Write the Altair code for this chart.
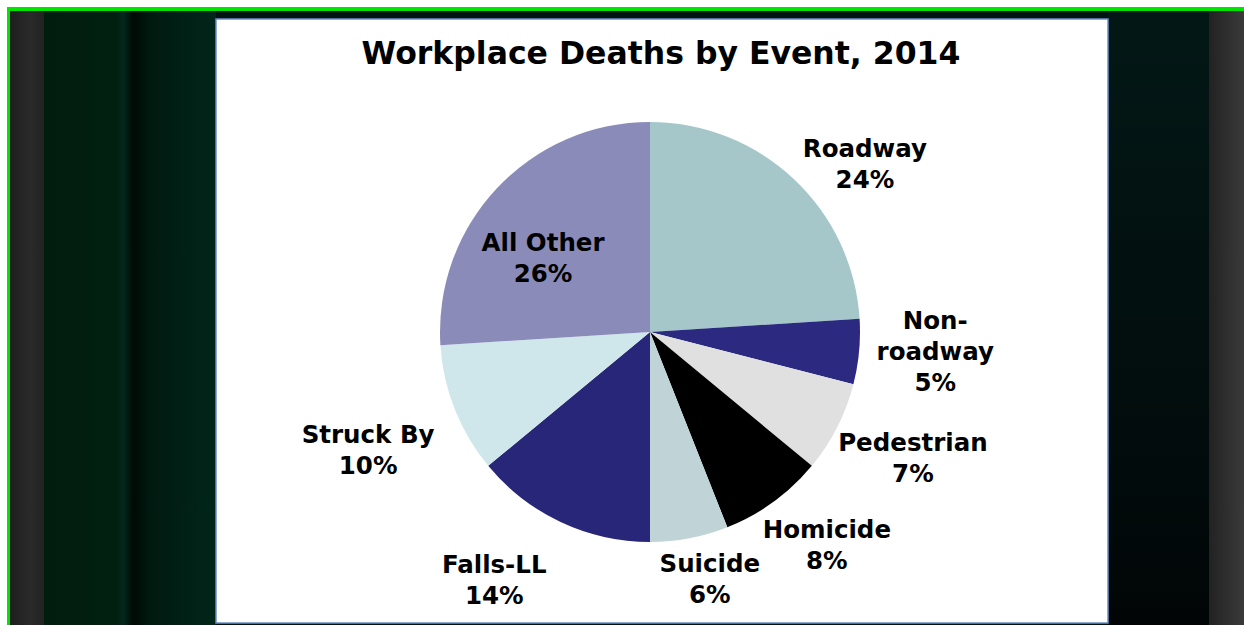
import math
import altair as alt
import pandas as pd

# ---- data ----
title_text = "Workplace Deaths by Event, 2014"
events = ["Roadway", "Non-roadway", "Pedestrian", "Homicide", "Suicide", "Falls-LL", "Struck By", "All Other"]
label_names = ["Roadway", "Non-\nroadway", "Pedestrian", "Homicide", "Suicide", "Falls-LL", "Struck By", "All Other"]
shares = [24, 5, 7, 8, 6, 14, 10, 26]
colors = ["#a5c7c9", "#2b2a80", "#e0e0e0", "#000000", "#c0d4d7", "#272678", "#cfe7eb", "#8b8bba"]

# ---- layout / style ----
W, H = 1244, 625
CX, CY, R = 650, 332, 210
FONT = "DejaVu Sans"
LH = 31
# label placement: (distance from centre, angular nudge in degrees)
label_place = {
    "Roadway": (272, 9.0),
    "Non-roadway": (286, -1.2),
    "Pedestrian": (292, -1.2),
    "Homicide": (278, -3.5),
    "Suicide": (256, -2.7),
    "Falls-LL": (294, 6.8),
    "Struck By": (306, -1.3),
    "All Other": (129, -9.2),
}

pie_df = pd.DataFrame({"event": events, "share": shares, "idx": list(range(len(events)))})

total = sum(shares)
rows = []
cum = 0
for ev, nm, s in zip(events, label_names, shares):
    mid = (cum + s / 2) / total * 360
    cum += s
    r, nudge = label_place[ev]
    a = math.radians(mid + nudge)
    txt = f"{nm}\n{s}%"
    n_lines = txt.count("\n") + 1
    rows.append({
        "event": ev, "text": txt,
        "lx": CX + r * math.sin(a),
        "ly": CY - r * math.cos(a) - (n_lines - 1) * LH / 2,
    })
lab_df = pd.DataFrame(rows)

one = pd.DataFrame({"k": [0]})


def box(x1, x2, y1, y2, color, **kw):
    return alt.Chart(one).mark_rect(color=color, **kw).encode(
        x=alt.value(x1), x2=alt.value(x2), y=alt.value(y1), y2=alt.value(y2)
    )


green = box(7, W, 7, H, "#00e400")
dark = box(10, W, 11, H, "#01130e")
gray_left = box(10, 44, 11, H, alt.LinearGradient(
    gradient="linear", x1=0, x2=1, y1=0, y2=0,
    stops=[alt.GradientStop(color="#1e1e1e", offset=0), alt.GradientStop(color="#2a2a2a", offset=0.6),
           alt.GradientStop(color="#222222", offset=1)]))
green_left = box(44, 216, 11, H, alt.LinearGradient(
    gradient="linear", x1=0, x2=1, y1=0, y2=0,
    stops=[alt.GradientStop(color="#011d0e", offset=0), alt.GradientStop(color="#01200f", offset=0.42),
           alt.GradientStop(color="#03291d", offset=0.46), alt.GradientStop(color="#000a04", offset=0.52),
           alt.GradientStop(color="#011a11", offset=0.62), alt.GradientStop(color="#01261a", offset=1)]))
right_dark = box(1108, 1209, 11, H, alt.LinearGradient(
    gradient="linear", x1=0, x2=0, y1=0, y2=1,
    stops=[alt.GradientStop(color="#031816", offset=0), alt.GradientStop(color="#020c0c", offset=0.7),
           alt.GradientStop(color="#010506", offset=1)]))
gray_right = box(1209, W, 11, H, alt.LinearGradient(
    gradient="linear", x1=0, x2=1, y1=0, y2=0,
    stops=[alt.GradientStop(color="#222222", offset=0), alt.GradientStop(color="#3a3a3a", offset=1)]))
panel = box(216, 1108, 19, 623, "white", stroke="#6a8ec8", strokeWidth=1.5)

pie = alt.Chart(pie_df).mark_arc(radius=R).encode(
    theta=alt.Theta("share:Q", stack=True),
    color=alt.Color("event:N", scale=alt.Scale(domain=events, range=colors), legend=None),
    order=alt.Order("idx:Q"),
    x=alt.value(CX),
    y=alt.value(CY),
)

labels = alt.Chart(lab_df).mark_text(
    font=FONT, fontSize=24.5, fontWeight="bold", color="black",
    align="center", baseline="middle", lineBreak="\n", lineHeight=LH,
).encode(
    x=alt.X("lx:Q", scale=None, axis=None),
    y=alt.Y("ly:Q", scale=None, axis=None),
    text="text:N",
)

title = alt.Chart(pd.DataFrame({"t": [title_text]})).mark_text(
    font=FONT, fontSize=31.5, fontWeight="bold", color="black", align="center", baseline="alphabetic",
).encode(x=alt.value(661), y=alt.value(64), text="t:N")

chart = alt.layer(
    green, dark, gray_left, green_left, right_dark, gray_right, panel, pie, labels, title
).properties(
    width=W, height=H, padding=0, autosize=alt.AutoSizeParams(type="none"), background="white"
).configure_view(stroke=None)

chart.save("out.html", embed_options={"renderer": "svg", "actions": False})
